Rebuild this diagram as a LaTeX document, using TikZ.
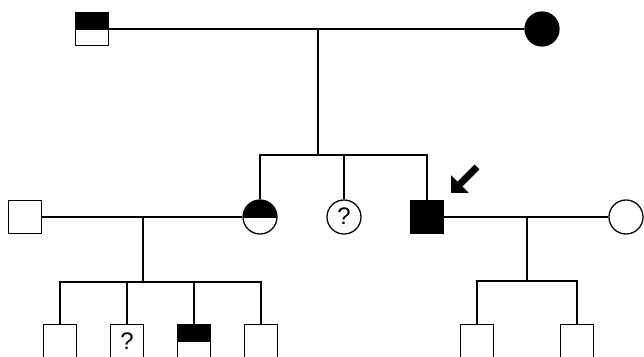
\documentclass[tikz,border=0pt]{standalone}
\usepackage{fontspec}
\setmainfont{Liberation Sans}
\usepackage{tikz}
\usetikzlibrary{
  arrows.meta,
  calc
}
\tikzset{
  person/.style={
    draw,
    inner sep=0pt,
    line width=0.9pt,
    fill=white,
    font=\fontsize{17}{17}\selectfont},
  male/.style={person, rectangle, minimum size=0.83cm},
  female/.style={person, circle, minimum size=0.85cm},
  affected/.style={fill=black},
  tophalf/.style={
    path picture={
      \fill[black] (path picture bounding box.north west)
        rectangle (path picture bounding box.east);
      \draw[line width=0.9pt] (path picture bounding box.west)
        -- (path picture bounding box.east);}},
  line/.style={line width=0.9pt}
}

\begin{document}
\begin{tikzpicture}[x=0.025cm,y=-0.025cm]
    \useasboundingbox (0,0) rectangle (644,356);
    \clip (0,0) rectangle (644,356);
    % generation I
    \node[male, tophalf] (gf) at (92,29) {};
    \node[female, affected] (gm) at (542,29) {};
    % generation II
    \node[male] (fa) at (25,217) {};
    \node[female, tophalf] (mo) at (260,217) {};
    \node[female] (q) at (344,217) {\raisebox{1pt}{?}};
    \node[male, affected] (pb) at (427,217) {};
    \node[female] (wi) at (626,217) {};
    % generation III
    \node[male] (a) at (60,341) {};
    \node[male] (b) at (127,341) {?};
    \node[male, tophalf] (c) at (194,341) {};
    \node[male] (d) at (261,341) {};
    \node[male] (e) at (477,341) {};
    \node[male] (f) at (577,341) {};

    \coordinate (m0) at (318,29);
    \coordinate (s0) at (318,155);
    \coordinate (m1) at (143,217);
    \coordinate (s1) at (143,282);
    \coordinate (m2) at (527,217);
    \coordinate (s2) at (527,281);

    \draw [line]
    (gf) -- (gm)
    (m0) -- (s0)
    (mo) |- (s0) -| (pb)
    (q) -- (q |- s0)
    (fa) -- (mo)
    (m1) -- (s1)
    (a) |- (s1) -| (d)
    (b) -- (b |- s1)
    (c) -- (c |- s1)
    (pb) -- (wi)
    (m2) -- (s2)
    (e) |- (s2) -| (f);

    % proband
    \coordinate (pt) at (477,167);
    \coordinate (ph) at (451,193);
    \draw [-{Triangle[length=9pt, width=17pt]}, line width=5pt] (pt) -- (ph);
  \end{tikzpicture}
\end{document}
